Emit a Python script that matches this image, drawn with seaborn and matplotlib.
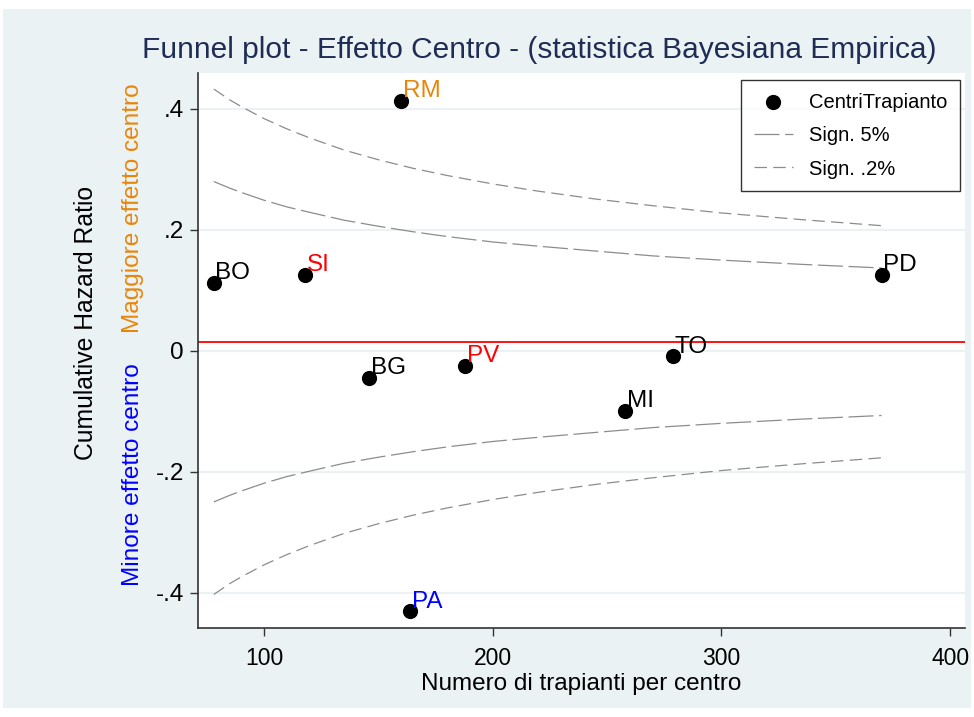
import matplotlib
matplotlib.use("Agg")
import matplotlib.pyplot as plt
import matplotlib.patches as mpatches
import numpy as np
import pandas as pd
import seaborn as sns

# Transplant centres: number of transplants and cumulative hazard ratio
centres = ["BO", "SI", "RM", "BG", "PA", "PV", "MI", "TO", "PD"]
n_transplants = [78, 118, 160, 146, 164, 188, 258, 279, 370]
hazard_ratio = [0.112, 0.126, 0.414, -0.045, -0.431, -0.025, -0.099, -0.009, 0.126]
label_colors = ["black", "#FF0000", "#E8860A", "black", "#0000FF", "#FF0000",
                "black", "black", "black"]

# Reference value (overall effect)
reference_value = 0.0145

# Control limits of the funnel
limit_n = [78, 85, 90, 100, 110, 120, 135, 150, 165, 180, 200, 220, 245, 270, 300, 335, 370]
upper_5 = [0.280, 0.269, 0.262, 0.249, 0.238, 0.229, 0.216, 0.206, 0.197, 0.189,
           0.180, 0.173, 0.165, 0.157, 0.150, 0.143, 0.137]
lower_5 = [-0.250, -0.239, -0.232, -0.219, -0.208, -0.199, -0.186, -0.176, -0.167, -0.159,
           -0.150, -0.143, -0.135, -0.127, -0.120, -0.113, -0.107]
upper_02 = [0.433, 0.415, 0.404, 0.384, 0.367, 0.352, 0.332, 0.316, 0.302, 0.290,
            0.276, 0.264, 0.251, 0.240, 0.228, 0.217, 0.207]
lower_02 = [-0.403, -0.385, -0.374, -0.354, -0.337, -0.322, -0.302, -0.286, -0.272, -0.260,
            -0.246, -0.234, -0.221, -0.210, -0.198, -0.187, -0.177]

x_ticks = [100, 200, 300, 400]
y_ticks = [-0.4, -0.2, 0.0, 0.2, 0.4]
y_tick_labels = ["-.4", "-.2", "0", ".2", ".4"]

sns.set_theme(style="white")
plt.rcParams["font.family"] = ["Liberation Sans", "DejaVu Sans"]
plt.rcParams["text.color"] = "black"
plt.rcParams["axes.labelcolor"] = "black"
plt.rcParams["xtick.labelcolor"] = "black"
plt.rcParams["ytick.labelcolor"] = "black"

BG = "#EAF2F3"
fig = plt.figure(figsize=(9.74, 7.17), dpi=100)
fig.patch.set_facecolor("white")
fig.patches.append(mpatches.Rectangle((3 / 974, 1 - 708 / 717), 968 / 974, 699 / 717,
                                      transform=fig.transFigure, facecolor=BG,
                                      edgecolor="none", zorder=-10))

ax = fig.add_axes([198 / 974, 1 - 627.7 / 717, (965 - 198) / 974, (627.7 - 72.7) / 717])
ax.set_facecolor("white")

points = pd.DataFrame({"n": n_transplants, "hr": hazard_ratio, "centre": centres})
limits = pd.DataFrame({"n": limit_n, "u5": upper_5, "l5": lower_5,
                       "u02": upper_02, "l02": lower_02})

line_color = "#8C8C8C"
dash_5 = (20, 4.5)
dash_02 = (10, 5)
sns.lineplot(data=limits, x="n", y="u5", ax=ax, color=line_color, lw=0.9, label="Sign. 5%")
ax.lines[-1].set_dashes(dash_5)
h5 = ax.lines[-1]
sns.lineplot(data=limits, x="n", y="l5", ax=ax, color=line_color, lw=0.9)
ax.lines[-1].set_dashes(dash_5)
sns.lineplot(data=limits, x="n", y="u02", ax=ax, color=line_color, lw=0.9, label="Sign. .2%")
ax.lines[-1].set_dashes(dash_02)
h02 = ax.lines[-1]
sns.lineplot(data=limits, x="n", y="l02", ax=ax, color=line_color, lw=0.9)
ax.lines[-1].set_dashes(dash_02)

ax.axhline(reference_value, color="#FF0000", lw=1.3, zorder=2)

sns.scatterplot(data=points, x="n", y="hr", ax=ax, color="black", s=120,
                edgecolor="black", linewidth=0, zorder=5, label="CentriTrapianto")
hpts = ax.collections[-1]

for xi, yi, name, c in zip(n_transplants, hazard_ratio, centres, label_colors):
    ax.annotate(name, (xi, yi), xytext=(1.0, -1.0), textcoords="offset points",
                ha="left", va="bottom", fontsize=17.5, color=c, zorder=6)

ax.set_xlim(71.1, 406.5)
ax.set_ylim(-0.458, 0.460)
ax.set_xticks(x_ticks)
ax.set_xticklabels([str(t) for t in x_ticks], fontsize=16.5)
ax.set_yticks(y_ticks)
ax.set_yticklabels(y_tick_labels, fontsize=17.5)
ax.yaxis.grid(True, color=BG, lw=1.5)
ax.xaxis.grid(False)
ax.set_axisbelow(True)
ax.tick_params(axis="both", which="both", direction="out", length=6, width=1,
               color="#333333", bottom=True, left=True)
ax.tick_params(axis="x", pad=8)
ax.tick_params(axis="y", pad=4)
for side in ("top", "right"):
    ax.spines[side].set_visible(False)
for side in ("left", "bottom"):
    ax.spines[side].set_color("#333333")
    ax.spines[side].set_linewidth(1.2)

ax.set_xlabel("Numero di trapianti per centro", fontsize=17.5, labelpad=2)
ax.set_ylabel("")

leg = ax.legend(handles=[hpts, h5, h02],
                labels=["CentriTrapianto", "Sign. 5%", "Sign. .2%"],
                loc="upper right", bbox_to_anchor=(0.9935, 0.9868), borderaxespad=0,
                frameon=True, fancybox=False, fontsize=14.5, handlelength=1.95,
                labelspacing=0.72, borderpad=0.62, handletextpad=0.8)
leg.get_frame().set_edgecolor("black")
leg.get_frame().set_linewidth(1.0)

fig.text(539.5 / 974, 1 - 50 / 717,
         "Funnel plot - Effetto Centro - (statistica Bayesiana Empirica)",
         ha="center", va="center", fontsize=21.5, color="#1F2D54")
fig.text(86 / 974, 1 - 323 / 717, "Cumulative Hazard Ratio", rotation=90,
         ha="center", va="center", fontsize=17.8, color="black")
fig.text(133 / 974, 1 - 208 / 717, "Maggiore effetto centro", rotation=90,
         ha="center", va="center", fontsize=17.6, color="#E8860A")
fig.text(133 / 974, 1 - 475 / 717, "Minore effetto centro", rotation=90,
         ha="center", va="center", fontsize=17.6, color="#0000FF")

fig.savefig("out.png", dpi=100, facecolor=fig.get_facecolor())
